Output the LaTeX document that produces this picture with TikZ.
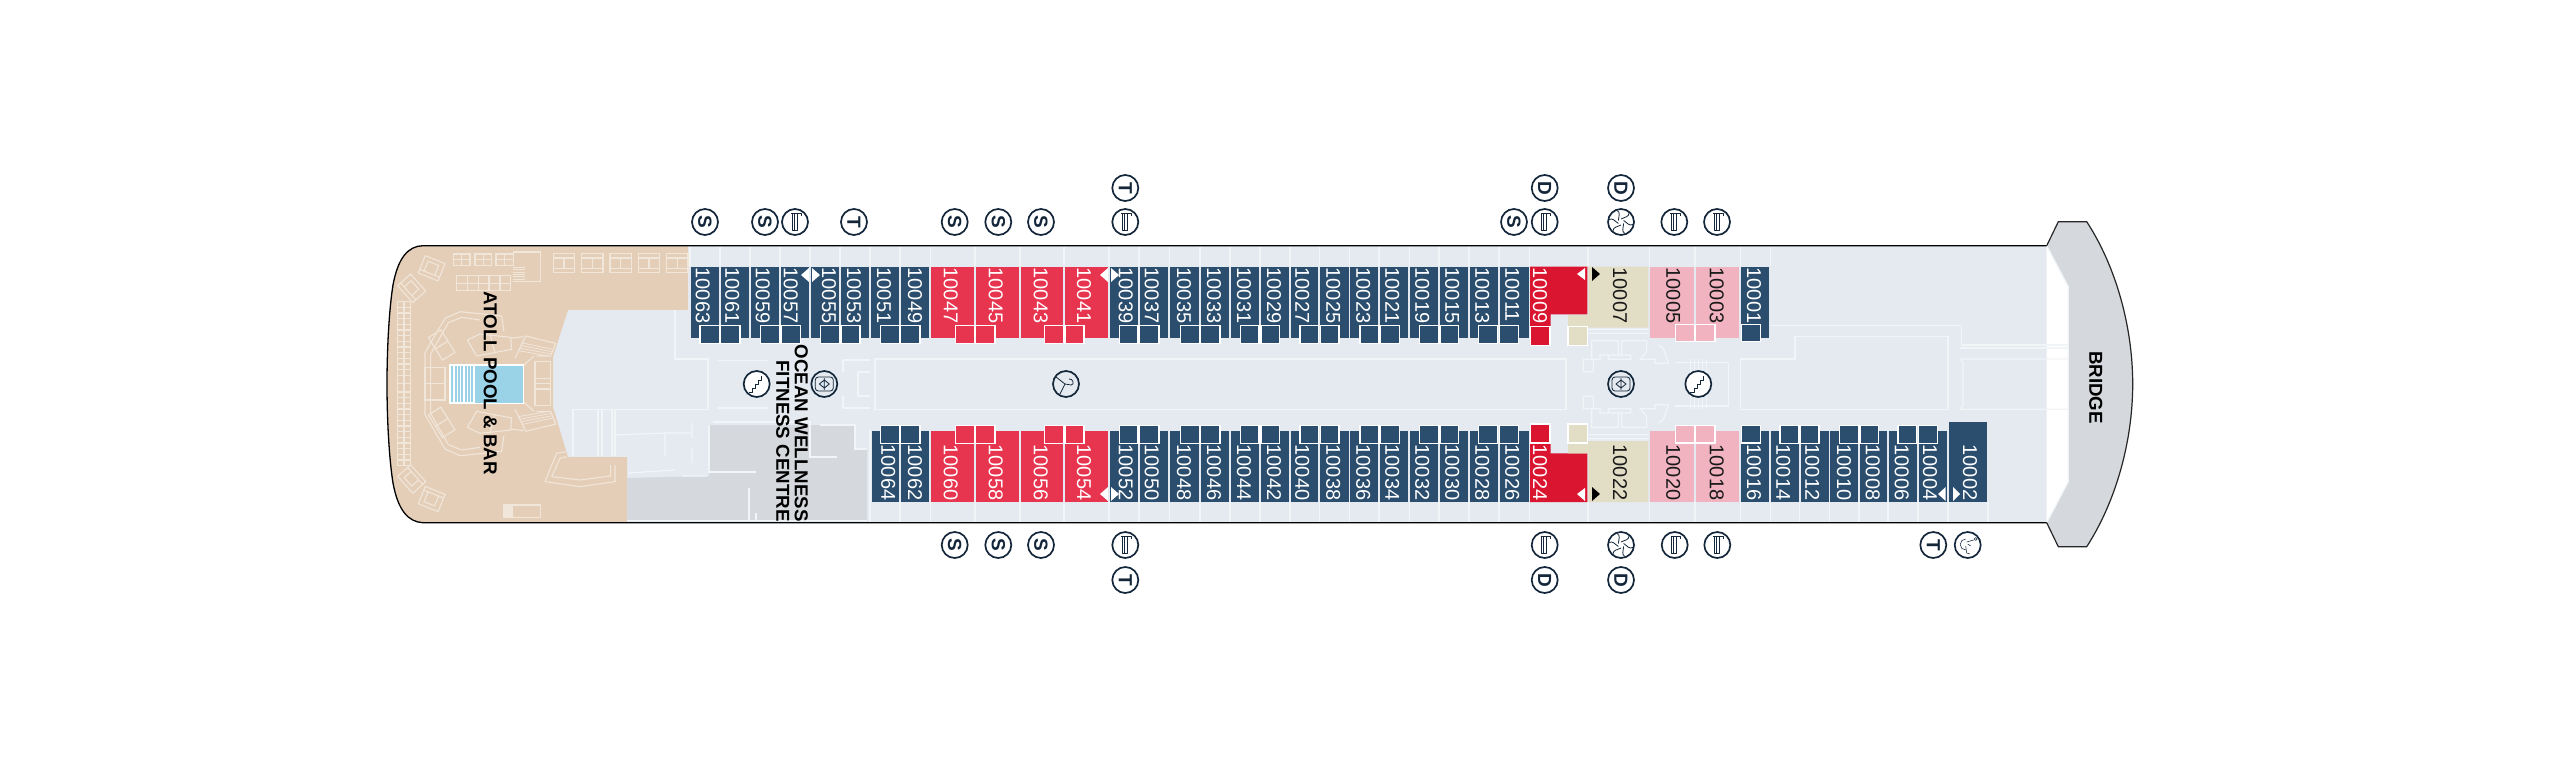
\documentclass[tikz,border=0pt]{standalone}
\usepackage{fontspec}
\setmainfont{Liberation Sans}
\usetikzlibrary{calc}
\definecolor{navy}{HTML}{2B4E6E}
\definecolor{rosered}{HTML}{E7344F}
\definecolor{deepred}{HTML}{DA1530}
\definecolor{beige}{HTML}{E2DDC5}
\definecolor{pinkc}{HTML}{F0B3BF}
\definecolor{tan}{HTML}{E4CEB8}
\definecolor{hullc}{HTML}{E4EAF0}
\definecolor{greyc}{HTML}{D5D9DD}
\definecolor{poolc}{HTML}{9AD3E8}
\definecolor{inkc}{HTML}{13263A}
\definecolor{deckl}{HTML}{F1E6DA}
\definecolor{softl}{HTML}{F2F5F8}
\tikzset{
  cabtext/.style={text=white,inner sep=0pt,rotate=-90,font=\fontsize{20}{20}\selectfont},
  darktext/.style={cabtext,text=black!90},
  label/.style={text=black,inner sep=0pt,rotate=-90,font=\bfseries\fontsize{18.7}{20}\selectfont,align=center},
  ico/.style={draw=inkc,line width=1.7pt,circle,minimum size=26pt,inner sep=0pt,fill=white},
  icoclear/.style={ico,fill=none},
  letter/.style={ico,text=inkc,rotate=-90,font=\bfseries\fontsize{19}{19}\selectfont},
  glyph/.style={draw=inkc,line width=.55pt,line join=round,fill=none},
  wl/.style={draw=softl,line width=1.2pt},
  dl/.style={draw=deckl,line width=1.1pt},
  bath/.style={draw=white,line width=1.3pt},
  tri/.style={fill=white,draw=none},
  btri/.style={fill=black,draw=none}
}
\newcommand\topcabins[3]{\foreach \n/\a/\b/\t in {#3}{\fill[#1] (\a,266.7) rectangle (\b,337.7);
   \node[#2,anchor=west] (c\n) at (\t,267.5) {\n};}}
\newcommand\botcabins[3]{\foreach \n/\a/\b/\t in {#3}{\fill[#1] (\a,430.7) rectangle (\b,502);
   \node[#2,anchor=east] (c\n) at (\t,500.5) {\n};}}
\newcommand\bathtop[2]{\foreach \a/\b in {#2}{\filldraw[bath,fill=#1] (\a,325.7) rectangle (\b,343.5);}}
\newcommand\bathbot[2]{\foreach \a/\b in {#2}{\filldraw[bath,fill=#1] (\a,425.5) rectangle (\b,443.3);}}
\newcommand\gLift[1]{\begin{scope}[shift={(#1)}]
  \draw[glyph] (-3,-8)--(-3,8)--(2,8)--(2,-8) (-1,-8)--(-1,8) (-4,-8.5)--(6,-8.5)--(6,-6);
\end{scope}}
\newcommand\gStairs[1]{\begin{scope}[shift={(#1)}]
  \draw[glyph,line width=.9pt] (-8,8)--(-4,8)--(-4,4)--(-1,4)--(-1,0)--(2,0)--(2,-4)--(5,-4)--(5,-8);
\end{scope}}
\newcommand\gLobby[1]{\begin{scope}[shift={(#1)}]
  \draw[glyph,rounded corners=3pt,line width=.8pt] (-9,-7) rectangle (9,7);
  \draw[glyph,line width=.8pt] (-5,0)--(0,-4)--(5,0)--(0,4)--cycle (0,-6)--(0,6);
\end{scope}}
\newcommand\gHanger[1]{\begin{scope}[shift={(#1)}]
  \draw[glyph,line width=.8pt] (-10,-7)--(-1,0)--(-6,10) (-1,0)--(5,1) .. controls (9,1) and (7,-6) .. (3,-5);
\end{scope}}
\newcommand\gFan[1]{\begin{scope}[shift={(#1)}]
  \foreach \r in {0,60,120,180,240,300}{\draw[glyph,rotate=\r,line width=.8pt] (0,-3) .. controls (4,-5) and (8,-5) .. (8,-9);}
\end{scope}}
\newcommand\gChair[1]{\begin{scope}[shift={(#1)}]
  \draw[glyph] (-2,-6) arc (-90:-270:5.5) (-1,-3)--(6,-5) (-2,1)--(-1,8)--(2,9) (0,-1)--(3,1);
  \draw[glyph] (8,-6) circle (1.5);
\end{scope}}
% furniture mirrored about the pool axis
\newcommand\deckhalf{
  \draw[dl] (52,215) rectangle (92,461);
  \foreach \y in {232,249,...,450}{\draw[dl] (52,\y)--(92,\y);}
  \draw[dl] (72,215)--(72,461);
  \begin{scope}[shift={(155,115)},rotate=-22]\draw[dl] (-32,-28) rectangle (32,28) (-32,16)--(32,16) (-18,-16) rectangle (16,16);\end{scope}
  \begin{scope}[shift={(95,175)},rotate=-48]\draw[dl] (-34,-26) rectangle (34,26) (-34,14)--(34,14) (-18,-14) rectangle (16,14);\end{scope}
  \draw[dl] (135,461)--(135,368)--(195,265)--(240,245)--(365,258)--(372,305);
  \draw[dl] (152,461)--(152,372)--(205,278)--(245,262)--(300,270);
  \draw[dl] (135,412) rectangle (195,461);
  \begin{scope}[shift={(185,345)},rotate=-58]\draw[dl] (-40,-22) rectangle (40,22) (0,-22)--(0,22);\end{scope}
  \draw[dl] (262,330)--(300,312)--(392,322)--(395,358)--(290,378)--(262,330);
  \draw[dl] (330,312)--(345,370);
  \draw[dl] (392,325)--(430,320);
  \draw[dl] (405,385)--(437,318)--(527,340)--(512,378)--(470,378);
  \foreach \t in {.15,.3,.45,.6}{\draw[dl,line width=.8pt] ($(412,370)!\t!(437,318)$)--($(505,385)!\t!(527,340)$);}
  \draw[dl] (432,405)--(462,378);
  \draw[dl] (465,395) rectangle (512,461) (465,445)--(512,445);
}
\newcommand\lobbyhalf{\draw[wl] (145,28)--(325,28) (145,40)--(325,40) (155,62)--(235,62)--(235,105)--(180,105)--(180,118)--(160,118)--(160,155)--(130,155)--(130,118)--(155,118)--cycle (245,62)--(320,62)--(320,95)--(300,118)--(345,118)--(345,130)--(385,130)--(370,85)--(355,75) (245,62)--(245,105)--(205,105)--(205,118)--(272,118)--(272,105)--(245,105);}
\begin{document}
\begin{tikzpicture}[x=1pt,y=-1pt]
\useasboundingbox (0,0) rectangle (2560,768);
\fill[white] (0,0) rectangle (2560,768);
\def\hullpath{(2046.7,245.7) -- (423,245.7) .. controls (408,246) and (398,258) .. (393,285) .. controls (389,310) and (387,350) .. (387,384) .. controls (387,418) and (389,458) .. (393,483) .. controls (398,510) and (408,522) .. (423,522.7) -- (2046.7,522.7)}
\fill[hullc] \hullpath -- cycle;
\begin{scope}
  \clip \hullpath -- cycle;
  \fill[tan] (380,240) rectangle (688,310);
  \fill[tan] (380,240) rectangle (553,530);
  \fill[tan] (553,310) -- (568,310) -- (553,357) -- (553,407) -- (568,457) -- (627,457) -- (627,530) -- (553,530) -- cycle;
  \fill[greyc] (627,478) -- (709,476) -- (709,425) -- (855,425) -- (855,449) -- (867,449) -- (867,520.5) -- (627,520.5) -- cycle;
\end{scope}
% bridge
\fill[greyc] (2046.7,245.7) -- (2058.3,221.7) -- (2086.7,221.7) .. controls (2115,265) and (2132.7,325) .. (2132.7,384) .. controls (2132.7,443) and (2115,503) .. (2086.7,546.7) -- (2058.3,546.7) -- (2046.7,522.7) -- (2068.3,481.7) -- (2068.3,286.7) -- cycle;
\draw[wl] (2046.7,245.7) -- (2068.3,286.7) -- (2068.3,481.7) -- (2046.7,522.7);
\draw[black!85,line width=1.2pt] (2046.7,245.7) -- (2058.3,221.7) -- (2086.7,221.7) .. controls (2115,265) and (2132.7,325) .. (2132.7,384) .. controls (2132.7,443) and (2115,503) .. (2086.7,546.7) -- (2058.3,546.7) -- (2046.7,522.7);
\draw[black,line width=1.3pt] \hullpath;
% deck furniture
\begin{scope}[shift={(380,230)},x=.3333pt,y=-.3333pt]\deckhalf\end{scope}
\begin{scope}[shift={(380,537.33)},x=.3333pt,y=.3333pt]\deckhalf\end{scope}
\begin{scope}[shift={(380,230)},x=.3333pt,y=-.3333pt]
  \foreach \a/\b in {220/270,285/335,348/400}{\draw[dl] (\a,72) rectangle (\b,106) (\a,88)--(\b,88) ({(\a+\b)/2},72)--({(\a+\b)/2},106);}
  \draw[dl] (230,137) rectangle (392,182) (230,160)--(392,160);
  \foreach \a in {262,295,327,360}{\draw[dl] (\a,137)--(\a,182);}
  \foreach \y in {112,119,...,160}{\draw[dl,line width=.9pt] (398,\y)--(435,\y);}
  \draw[dl] (400,66)--(482,66)--(482,155)--(435,155);
  \foreach \a in {520,605,690,775,860}{\draw[dl] (\a,70) rectangle (\a+64,127) (\a,115)--(\a+64,115) (\a,84)--(\a+64,84) (\a+32,84)--(\a+32,115);}
  \fill[poolc] (285,405) rectangle (430,520);
  \fill[white] (210,405) rectangle (285,520);
  \foreach \a in {214,224,...,280}{\fill[poolc] (\a,408) rectangle (\a+6,517);}
  \draw[white,line width=1.3pt] (210,405) rectangle (430,521);
  \draw[dl] (495,755)--(530,670)--(560,665) (495,755)--(600,770)--(705,755)--(705,705) (515,740)--(540,685)--(560,680) (515,740)--(600,750)--(692,738)--(692,705);
  \draw[dl] (370,825) rectangle (482,862);
  \fill[deckl] (370,825) rectangle (400,862);
\end{scope}
% corridors and rooms
\draw[wl] (875,359)--(1566,359)--(1566,409.3)--(875,409.3)--cycle;
\draw[wl] (675,310)--(675,359)--(708,359)--(708,409.3)--(572,409.3);
\draw[wl] (718,360.5)--(768,360.5) (718,408)--(768,408);
\draw[wl] (843,360)--(870,360) (843,360)--(843,372) (858,372)--(870,372) (843,408)--(870,408) (843,408)--(843,396) (858,396)--(870,396) (858,372)--(858,396);
\draw[wl] (573,409)--(573,456) (598,409)--(598,456) (602,409)--(602,456) (612,409)--(612,456) (615,409)--(615,456);
\draw[wl] (615,435)--(665,433)--(692,433) (692,423)--(692,438) (692,448)--(692,463) (665,433)--(665,456) (628,473)--(675,470) (682,476)--(707,476);
\draw[wl] (709,425)--(709,472)--(756,472) (713,422)--(810,422)--(810,457)--(837,457) (820,425)--(855,425)--(855,449)--(867,449) (749,488)--(749,520) (756,513)--(756,520);
\draw[wl] (870,430)--(870,521) (627,520.5)--(867,520.5);
\draw[wl] (1740.7,359)--(1795,359)--(1795,336.7)--(1948,336.7)--(1948,409.3)--(1740.7,409.3)--cycle;
\draw[wl] (1770,325.7)--(1961.7,325.7)--(1961.7,345)--(2068,345) (1960,348)--(2068,348);
\draw[wl] (1960,359)--(2068,359) (1960,359)--(1963,363)--(1963,405)--(1960,409.3)--(2068,409.3);
\draw[wl] (1675,362.7)--(1728.3,362.7)--(1728.3,406)--(1675,406);
\foreach \z in {1690,1694,1698,1702,1706}{\draw[softl,line width=.8pt] (\z,359)--(\z,409);}
\begin{scope}[shift={(1540,320)},x=.3333pt,y=-.3333pt]\lobbyhalf\end{scope}
\begin{scope}[shift={(1540,448)},x=.3333pt,y=.3333pt]\lobbyhalf\end{scope}
% balcony dividers
\foreach \x in {690,720,750,780,810,840,870,900,930.5,975,1020,1064,1109,1139,1169.5,1200,1230,1260,1290,1319.5,1349.5,1379,1409.5,1439,1469,1499,1529.5,1588,1649.5,1695,1740.5,1770.5}{\draw[wl] (\x,246.5)--(\x,266);}
\foreach \x in {870,900,930.5,975,1020,1064,1109,1139,1169.5,1200,1230,1260,1290,1319.5,1349.5,1379,1409.5,1439,1469,1499,1529.5,1588,1649.5,1695,1740.5,1770.5,1799.5,1829.5,1859,1888,1918,1948,1988}{\draw[wl] (\x,502)--(\x,522);}
% cabins, upper row
\topcabins{navy}{cabtext}{10063/691/719/702.7,10061/720.7/749/732.3,10059/751/779/762.7,10057/781/809/790.7,10055/811/839.3/829,10053/841/869/854,10051/871/899/884,10049/900.7/929.3/915,
 10039/1110/1137.7/1125.7,10037/1139.7/1168.3/1151.7,10035/1170.3/1199/1184,10033/1200.7/1229/1214,10031/1231/1259/1244,10029/1261/1289/1274,10027/1290.7/1318.3/1302.3,10025/1320.3/1348.7/1333.3,10023/1350/1378.3/1363.3,10021/1380/1408.3/1392.3,10019/1410/1438/1422.3,10015/1440/1468/1452.3,10013/1470/1497.7/1482.3,10011/1500/1529/1512.3,10001/1741.3/1769.3/1754}
\topcabins{rosered}{cabtext}{10047/931.3/974/950.7,10045/975.7/1019/995.7,10043/1020.7/1063.3/1040.7,10041/1065/1108.3/1084}
\topcabins{pinkc}{darktext}{10005/1650/1694.3/1673.3,10003/1695.7/1739.3/1716.7}
\fill[deepred] (1530,266.7) -- (1587.3,266.7) -- (1587.3,314.3) -- (1550.7,314.3) -- (1550.7,326) -- (1530,326) -- cycle;
\node[cabtext,anchor=west] (c10009) at (1540,267.5) {10009};
\fill[beige] (1588.3,266.7) -- (1648.3,266.7) -- (1648.3,327.7) -- (1568,327.7) -- (1568,315) -- (1588.3,315) -- cycle;
\node[darktext,anchor=west] (c10007) at (1620,267.5) {10007};
% cabins, lower row
\botcabins{navy}{cabtext}{10064/871.7/899/888.3,10062/900.7/929.3/915,10052/1110/1137.7/1125.7,10050/1139.7/1168.3/1151.7,10048/1170.3/1199/1184,10046/1200.7/1229/1214,10044/1231/1259/1244,10042/1261/1289/1274,10040/1290.7/1318.3/1302.3,10038/1320.3/1348.7/1333.3,10036/1350/1378.3/1363.3,10034/1380/1408.3/1392.3,10032/1410/1438/1422.3,10030/1440/1468/1452.3,10028/1470/1497.7/1482.3,10026/1500/1529/1512.3,
 10016/1741.3/1769.3/1754,10014/1771/1799/1783.3,10012/1801/1829/1812.3,10010/1830/1858.3/1844,10008/1860/1887/1872.7,10006/1889/1916.7/1901.7,10004/1918.7/1947.3/1930}
\botcabins{rosered}{cabtext}{10060/931.3/974/950.7,10058/975.7/1019/995.7,10056/1020.7/1063.3/1040.7,10054/1065/1108.3/1084}
\botcabins{pinkc}{darktext}{10020/1650/1694.3/1673.3,10018/1695.7/1739.3/1716.7}
\fill[navy] (1948.7,422.3) rectangle (1987,502);
\node[cabtext,anchor=east] (c10002) at (1970,500.5) {10002};
\fill[deepred] (1530,502) -- (1587.3,502) -- (1587.3,453.3) -- (1550.7,453.3) -- (1550.7,444) -- (1530,444) -- cycle;
\node[cabtext,anchor=east] (c10024) at (1540,500.5) {10024};
\fill[beige] (1588.3,502) -- (1648.3,502) -- (1648.3,441) -- (1568,441) -- (1568,453.3) -- (1588.3,453.3) -- cycle;
\node[darktext,anchor=east] (c10022) at (1620,500.5) {10022};
% bathrooms
\bathtop{navy}{700/719.3,720.7/740,760.3/779.3,781/800.3,820.7/839.3,841/860,880.7/899.3,900.7/920,1119.3/1138,1139.7/1159,1180.7/1199.3,1200.7/1220,1240.3/1259,1261/1279.7,1300/1318.7,1320.3/1339,1360/1378.7,1380/1399.3,1419.7/1438.3,1440/1458.7,1478.7/1497.7,1499.7/1518.3}
\bathtop{rosered}{955.3/974.3,975.7/995,1044.3/1063.3,1065/1084}
\bathbot{navy}{880.7/899.3,900.7/920,1119.3/1138,1139.7/1159,1180.7/1199.3,1200.7/1220,1240.3/1259,1261/1279.7,1300/1318.7,1320.3/1339,1360/1378.7,1380/1399.3,1419.7/1438.3,1440/1458.7,1478.7/1497.7,1499.7/1518.3,1780/1799,1800/1819,1839.3/1858.3,1860/1878.3,1898/1916.7,1918.3/1937.3}
\bathbot{rosered}{955.3/974.3,975.7/995,1044.3/1063.3,1065/1084}
\filldraw[bath,fill=deepred] (1530.7,326.5) rectangle (1550,345.7);
\filldraw[bath,fill=beige] (1568,326.5) rectangle (1587.3,345.7);
\filldraw[bath,fill=deepred] (1530.7,424) rectangle (1550,443);
\filldraw[bath,fill=beige] (1568,424) rectangle (1587.3,443);
\foreach \a/\b in {1675.7/1694.3,1695.7/1715}{\filldraw[bath,fill=pinkc] (\a,324.3) rectangle (\b,341.7); \filldraw[bath,fill=pinkc] (\a,425.5) rectangle (\b,443);}
\filldraw[bath,fill=navy] (1741.7,324.3) rectangle (1760.3,341.7);
\filldraw[bath,fill=navy] (1741.7,425.5) rectangle (1760.3,443);
% door marks
\fill[tri] (1108,268)--(1108,282)--(1100,275)--cycle (1111,268)--(1111,282)--(1119,275)--cycle;
\fill[tri] (1108,487)--(1108,501)--(1100,494)--cycle (1111,487)--(1111,501)--(1119,494)--cycle;
\fill[tri] (809,268)--(809,282)--(801,275)--cycle (812,268)--(812,282)--(820,275)--cycle;
\fill[tri] (1585,268)--(1585,280)--(1577,274)--cycle (1585,488)--(1585,501)--(1577,494)--cycle;
\fill[btri] (1592,267)--(1592,281)--(1600,274)--cycle (1592,487)--(1592,501)--(1600,494)--cycle;
\fill[tri] (1945.7,487)--(1945.7,501)--(1938,494)--cycle (1953,487)--(1953,501)--(1960,494)--cycle;
% labels
\node[label] (atoll) at (490.3,383) {ATOLL POOL \& BAR};
\node[label,anchor=east] (ocean) at (801.3,521.7) {OCEAN WELLNESS};
\node[label,anchor=east] (fitness) at (782.7,521.7) {FITNESS CENTRE};
\node[label] (bridge) at (2095.7,387.5) {BRIDGE};
% symbols
\foreach \k/\x/\y/\s in {a/705/222/S,b/765/222/S,c/854/222/T,d/954.7/222/S,e/998.3/222/S,f/1041/222/S,g/1125.3/188/T,h/1544.7/188/D,i/1514/222/S,j/1621/188/D,k/954.7/545/S,l/998.3/545/S,m/1041/545/S,n/1125.3/580/T,o/1544.7/580/D,p/1621/580/D,q/1933.3/545/T}{\node[letter] (sym\k) at (\x,\y) {\s};}
\foreach \k/\x/\y in {a/795/222,b/1125.3/222,c/1544.7/222,d/1674.3/222,e/1717/222,f/1125.3/545,g/1544.7/545,h/1674.7/545,i/1717.3/545}{\node[ico] (lift\k) at (\x,\y) {}; \gLift{\x,\y}}
\foreach \k/\x/\y in {a/1621/222,b/1621/545}{\node[ico] (fan\k) at (\x,\y) {}; \gFan{\x,\y}}
\foreach \k/\x/\y in {a/756.7/384,b/1698.3/384}{\node[ico] (stair\k) at (\x,\y) {}; \gStairs{\x,\y}}
\foreach \k/\x/\y in {a/824.3/384,b/1621/384}{\node[icoclear] (lobby\k) at (\x,\y) {}; \gLobby{\x,\y}}
\node[icoclear] (hanger) at (1066,384) {}; \gHanger{1066,384}
\node[ico] (chair) at (1967.7,545) {}; \gChair{1967.7,545}
\end{tikzpicture}
\end{document}
